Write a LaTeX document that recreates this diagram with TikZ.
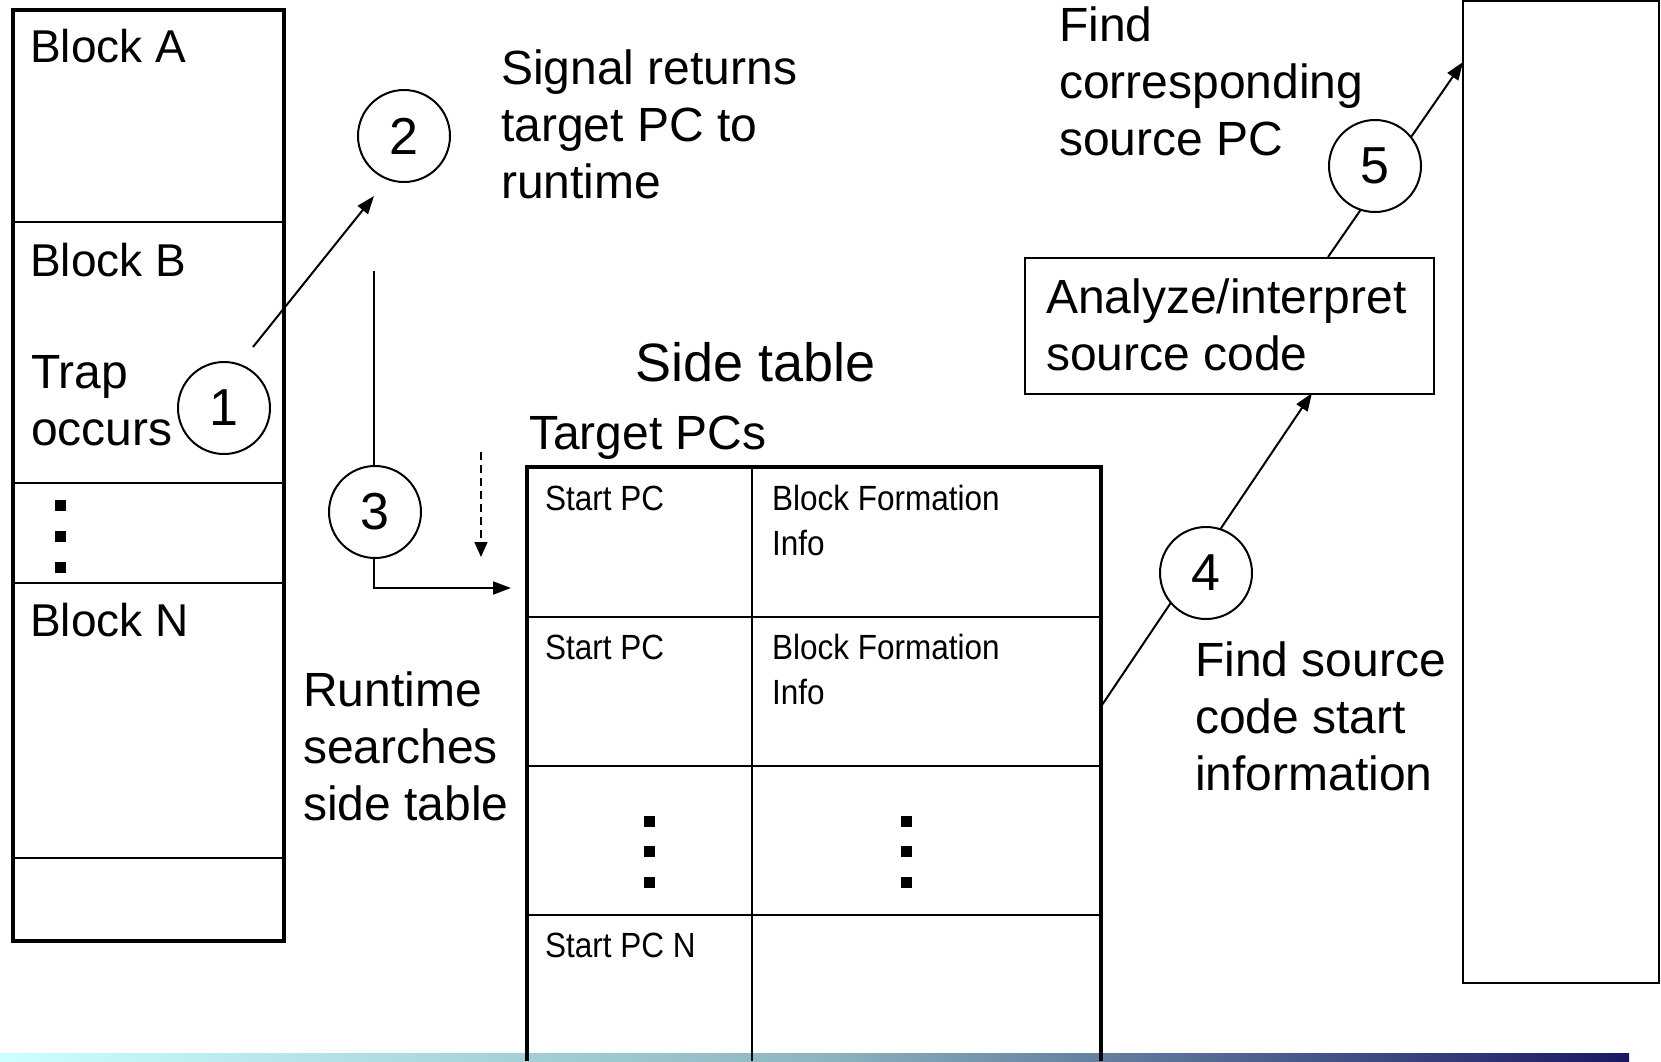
\documentclass[tikz,border=0pt]{standalone}
\usepackage{fontspec}
\setmainfont{Liberation Sans}
\newfontfamily\tabfont[FakeStretch=0.9]{Liberation Sans}
\usetikzlibrary{arrows.meta}
\definecolor{barL}{RGB}{204,255,255}
\definecolor{barM}{RGB}{140,182,192}
\definecolor{barR}{RGB}{26,24,100}
\begin{document}
\begin{tikzpicture}[x=1pt,y=-1pt,
  txt/.style={anchor=base west, inner sep=0pt, align=left, font=\fontsize{48}{57}\selectfont},
  blk/.style={anchor=base west, inner sep=0pt, align=left, font=\fontsize{46}{57}\selectfont},
  bigtxt/.style={anchor=base west, inner sep=0pt, font=\fontsize{54}{60}\selectfont},
  tab/.style={anchor=base west, inner sep=0pt, align=left, font=\tabfont\fontsize{35}{45.5}\selectfont},
  num/.style={circle, draw, line width=2pt, fill=white, minimum size=92pt, inner sep=0pt, font=\fontsize{52}{52}\selectfont},
  arr/.style={line width=2pt, -{Triangle[length=18pt,width=13pt]}},
  darr/.style={line width=1.5pt, dash pattern=on 8pt off 5pt, -{Triangle[length=15pt,width=13pt]}},
  thickline/.style={line width=4pt},
  thinline/.style={line width=2pt},
  dotsq/.style={rectangle, fill=black, minimum size=11pt, inner sep=0pt}
]
\useasboundingbox (0,0) rectangle (1661,1061);

% bottom gradient bar
\shade[left color=barL, right color=barR, middle color=barM] (0,1053) rectangle (1629,1061);

% left column
\draw[thinline] (13,222) -- (284,222);
\draw[thinline] (13,483) -- (284,483);
\draw[thinline] (13,583) -- (284,583);
\draw[thinline] (13,858) -- (284,858);
\draw[thickline] (13,10) rectangle (284,941);
\node[blk] (ba) at (30,62) {Block A};
\node[blk] (bb) at (30,276) {Block B};
\node[txt] (trap) at (31,445) {Trap\\occurs};
\node[blk] (bn) at (30,636) {Block N};
\node[dotsq] (ld1) at (60,505) {};
\node[dotsq] (ld2) at (60,536) {};
\node[dotsq] (ld3) at (60,567) {};

% side table
\draw[thinline] (752,467) -- (752,1061);
\draw[thinline] (526,617) -- (1101,617);
\draw[thinline] (526,766) -- (1101,766);
\draw[thinline] (526,915) -- (1101,915);
\draw[thickline] (526.5,1061) -- (526.5,467) -- (1100.5,467) -- (1100.5,1061);
\node[bigtxt] (st) at (635,381) {Side table};
\node[txt] (tpc) at (529,449) {Target PCs};
\node[tab] (s1) at (545,510) {Start PC};
\node[tab] (f1) at (772,555.5) {Block Formation\\Info};
\node[tab] (s2) at (545,659) {Start PC};
\node[tab] (f2) at (772,704.5) {Block Formation\\Info};
\node[tab] (sn) at (545,957) {Start PC N};
\node[dotsq] (td1) at (649,821) {};
\node[dotsq] (td2) at (649,851) {};
\node[dotsq] (td3) at (649,882) {};
\node[dotsq] (td4) at (906,821) {};
\node[dotsq] (td5) at (906,851) {};
\node[dotsq] (td6) at (906,882) {};

% right column
\draw[thinline] (1463,1) rectangle (1659,983);
\node[draw, thinline, minimum width=409pt, minimum height=136pt, anchor=north west, inner sep=0pt] (anl) at (1024,257) {};
\node[txt] (anlt) at (1046,370) {Analyze/interpret\\source code};

% labels
\node[txt] (sig) at (501,198) {Signal returns\\target PC to\\runtime};
\node[txt] (rts) at (303,820) {Runtime\\searches\\side table};
\node[txt] (fcs) at (1059,155) {Find\\corresponding\\source PC};
\node[txt] (fsc) at (1195,790) {Find source\\code start\\information};

% connectors
\coordinate (a1s) at (253,347);
\coordinate (a1e) at (374,196);
\draw[arr] (a1s) -- (a1e);

\coordinate (r3top) at (374,271);
\coordinate (r3bend) at (374,588);
\coordinate (r3end) at (511,588);
\draw[arr] (r3top) -- (r3bend) -- (r3end);

\coordinate (ds) at (481,452);
\coordinate (de) at (481,557);
\draw[darr] (ds) -- (de);

\coordinate (a4s) at (1102,705);
\coordinate (a4e) at (1312,393);
\draw[arr] (a4s) -- (a4e);

\coordinate (a5s) at (1328,257);
\coordinate (a5e) at (1463,62);
\draw[arr] (a5s) -- (a5e);

% numbered circles
\node[num] (c1) at (224,408) {1};
\node[num] (c2) at (404,136) {2};
\node[num] (c3) at (375,512) {3};
\node[num] (c4) at (1206,573) {4};
\node[num] (c5) at (1375,166) {5};
\end{tikzpicture}
\end{document}
